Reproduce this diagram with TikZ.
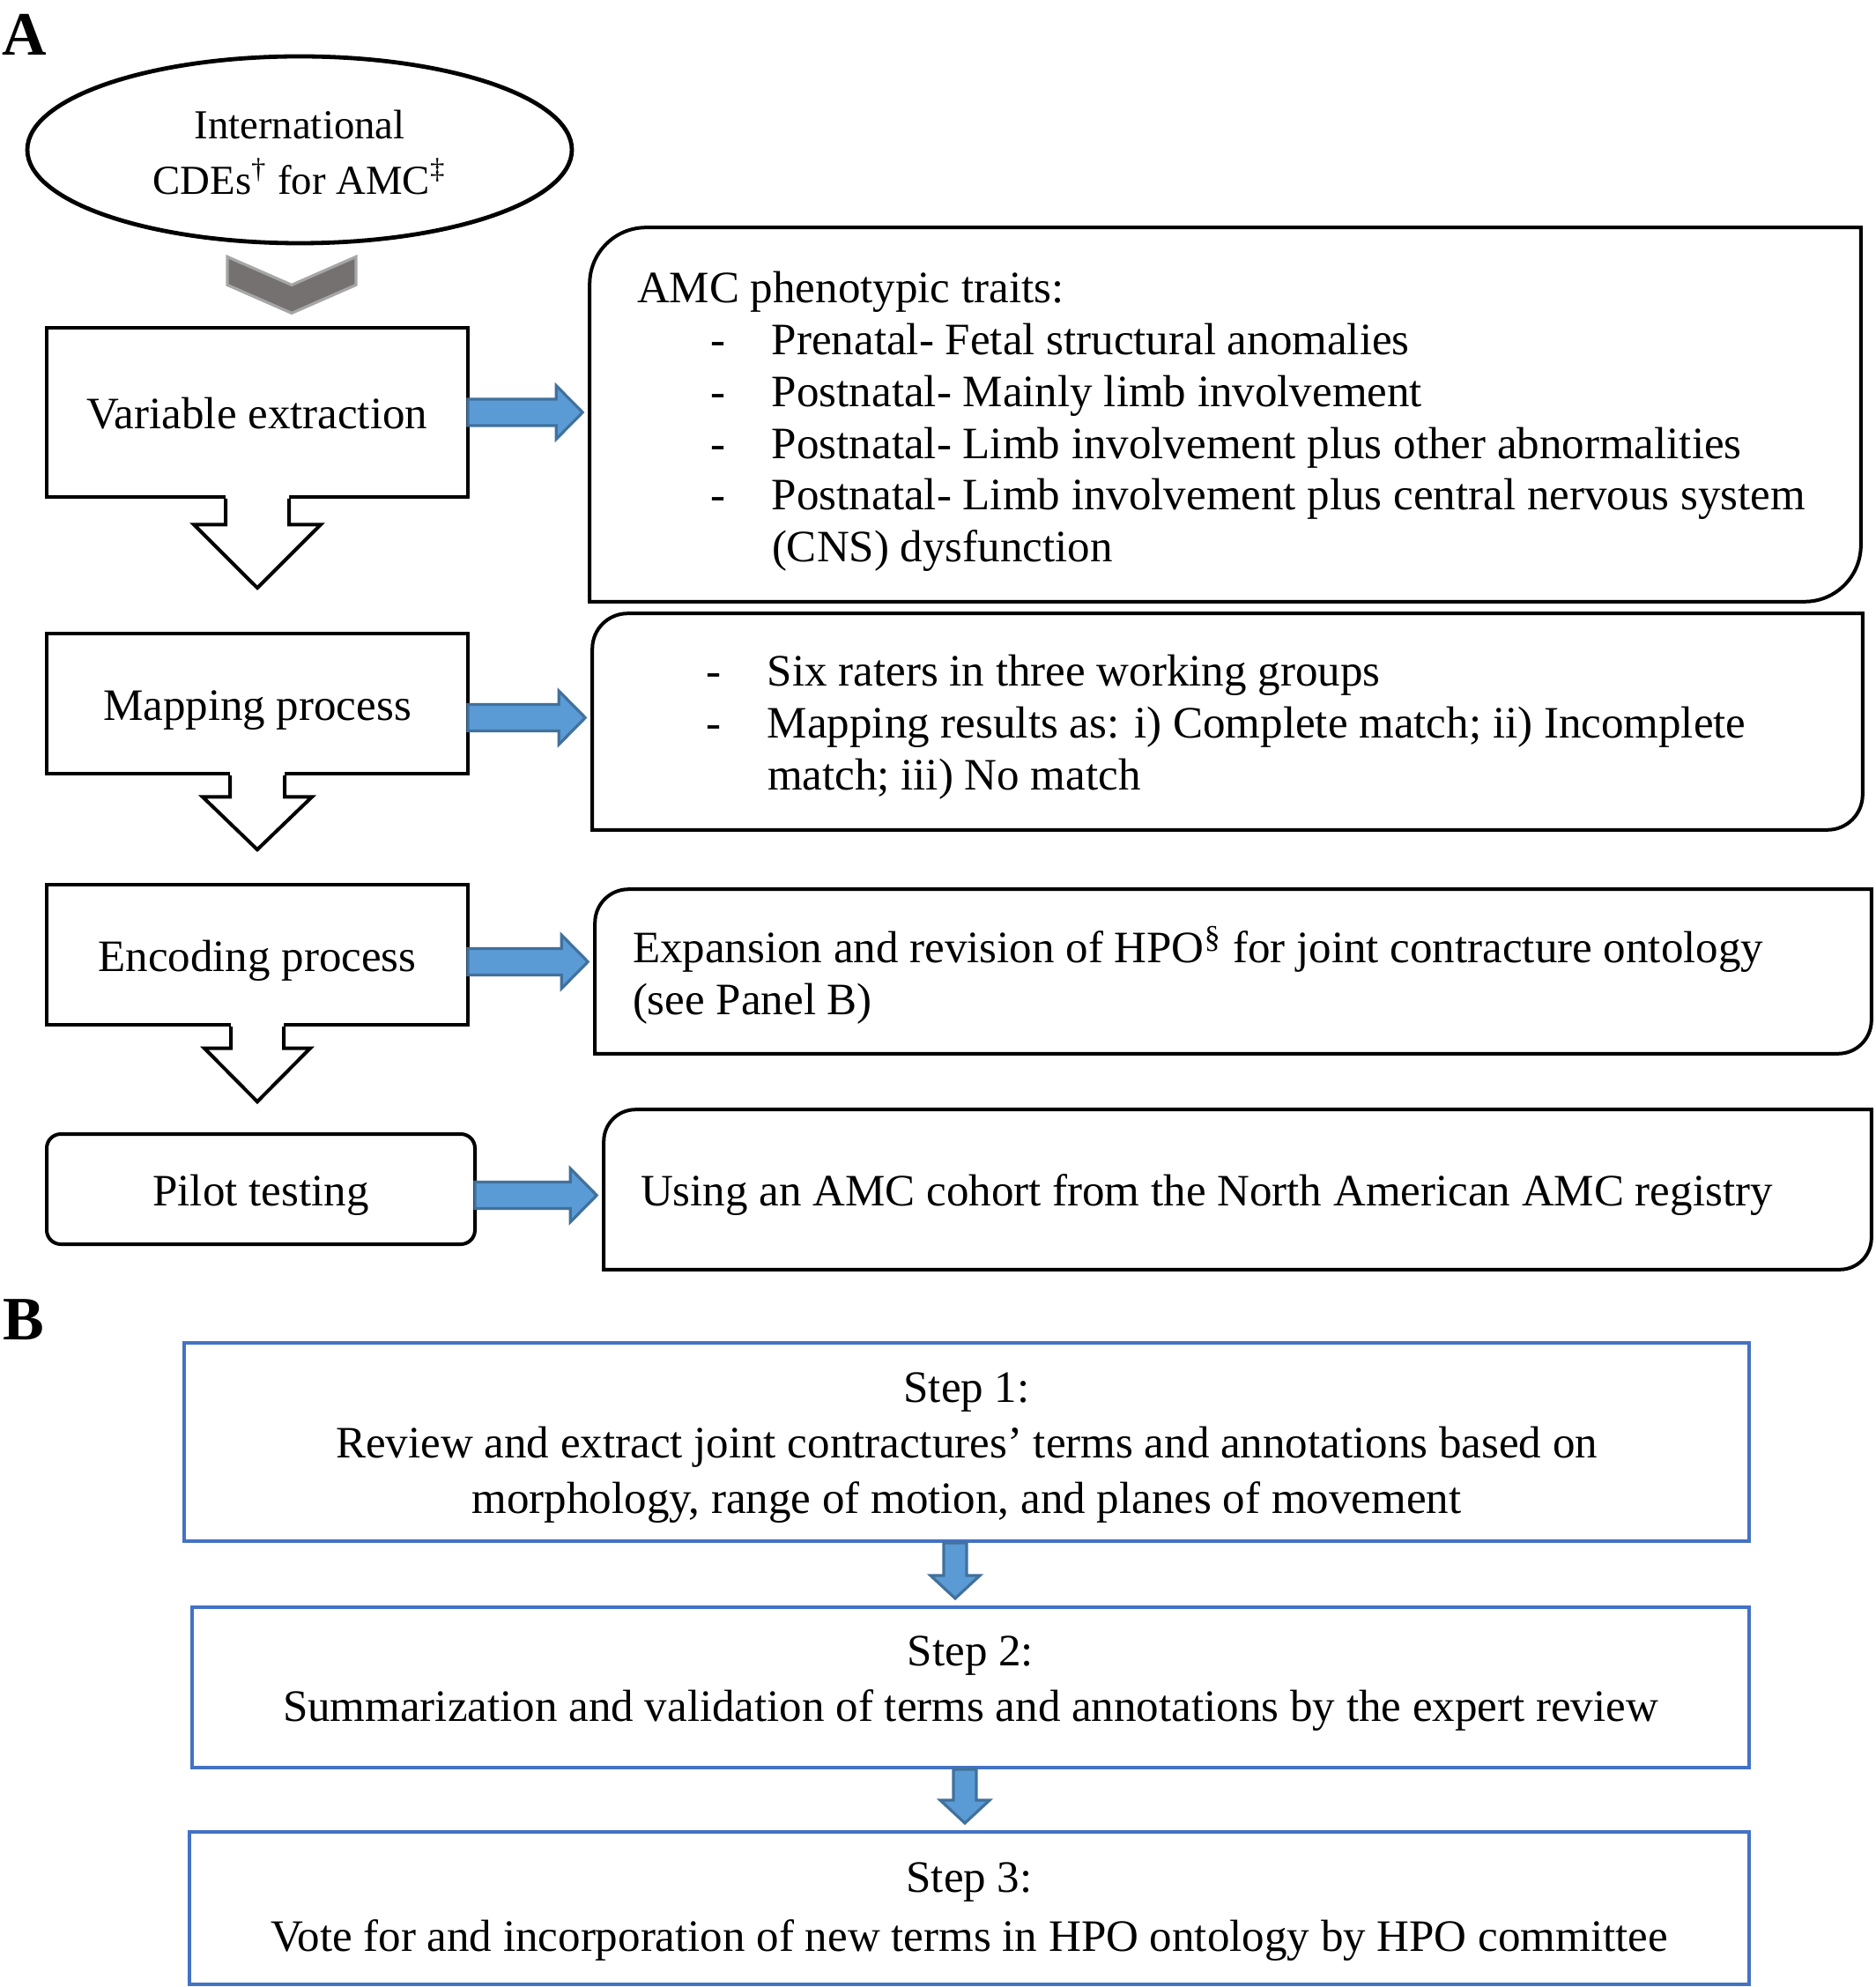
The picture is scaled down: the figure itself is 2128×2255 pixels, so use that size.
\documentclass[tikz,border=0pt]{standalone}
\usepackage{fontspec}
\setmainfont{Liberation Serif}
\usepackage{tikz}
\usetikzlibrary{arrows,positioning,calc,shapes}

\definecolor{arrowfill}{RGB}{91,155,213}
\definecolor{arrowedge}{RGB}{65,113,156}
\definecolor{stepblue}{RGB}{68,114,196}
\definecolor{chevfill}{RGB}{118,113,113}
\definecolor{chevedge}{RGB}{166,166,166}

\newcommand{\boxfont}{\fontsize{12.75}{14.7}\selectfont}
\newcommand{\stepfont}{\fontsize{12.75}{15.8}\selectfont}
\newcommand{\dashitem}[1]{\makebox[17.5pt][l]{-}#1}

% blue block arrow to the right, from a stage to its note
\newcommand{\bluearrow}[3]{%
  \filldraw[blockarrow] let \p1=($(#1.east)+(0,#3)$), \p2=(#2.west) in
    (\x1-0.5pt,\y1+3.75pt) -- (\x2-9.5pt,\y1+3.75pt) -- (\x2-9.5pt,\y1+7.6pt) -- (\x2-2pt,\y1)
    -- (\x2-9.5pt,\y1-7.6pt) -- (\x2-9.5pt,\y1-3.75pt) -- (\x1-0.5pt,\y1-3.75pt) -- cycle;}
% small blue arrow down (panel B)
\newcommand{\bluedown}[3]{%
  \filldraw[blockarrow] let \p1=($(#1.south)+(#3,0)$), \p2=(#2.north) in
    (\x1-3.25pt,\y1) -- (\x1-3.25pt,\y2+8.5pt) -- (\x1-7pt,\y2+8.5pt) -- (\x1,\y2+2pt)
    -- (\x1+7pt,\y2+8.5pt) -- (\x1+3.25pt,\y2+8.5pt) -- (\x1+3.25pt,\y1) -- cycle;}
% hollow arrow out of the bottom of a stage
\newcommand{\hollowdown}[3]{%
  \coordinate (hd-a) at (#1.south);
  \coordinate (hd-b) at ($(hd-a)!0.29!(#2)$);
  \fill[white] ($(hd-a)+(-#3,-5)$) -- ($(hd-b)+(-#3,0)$) -- ($(hd-b)+(-2*#3,0)$) -- (#2)
    -- ($(hd-b)+(2*#3,0)$) -- ($(hd-b)+(#3,0)$) -- ($(hd-a)+(#3,-5)$) -- cycle;
  \draw[boxline] ($(hd-a)+(-#3,0)$) -- ($(hd-b)+(-#3,0)$) -- ($(hd-b)+(-2*#3,0)$) -- (#2)
    -- ($(hd-b)+(2*#3,0)$) -- ($(hd-b)+(#3,0)$) -- ($(hd-a)+(#3,0)$);}
% note frame, top left and bottom right corners rounded
\newcommand{\twocorner}[2]{%
  \draw[boxline] (#1.south west) -- ($(#1.north west)+(0,-#2)$) arc[start angle=180,end angle=90,radius=#2]
    -- (#1.north east) -- ($(#1.south east)+(0,#2)$) arc[start angle=0,end angle=-90,radius=#2] -- cycle;}

\tikzset{
  boxline/.style={draw=black, line width=1pt},
  stagebox/.style={boxline, rectangle, minimum width=119.5pt, inner sep=0pt, text height=9.4pt, text depth=0pt, font=\boxfont},
  notebox/.style={rectangle, inner sep=0pt},
  notetext/.style={anchor=west, align=left, inner sep=0pt, font=\boxfont},
  stepbox/.style={draw=stepblue, line width=1pt, rectangle, inner sep=0pt, align=center, font=\stepfont},
  blockarrow/.style={fill=arrowfill, draw=arrowedge, line width=0.8pt},
  chevron/.style={fill=chevfill, draw=chevedge, line width=0.8pt},
  panellabel/.style={anchor=base west, inner sep=0pt, font=\bfseries\fontsize{17.5}{20}\selectfont}
}

\begin{document}
\begin{tikzpicture}[x=0.25pt, y=-0.25pt]
\useasboundingbox (0,0) rectangle (2128,2255);

% Panel A
\node[panellabel] (la) at (2,63) {A};
\node[draw, ellipse, line width=1.2pt, minimum width=154.5pt, minimum height=53pt, inner sep=0pt,
  align=center, font=\fontsize{11.7}{15.75}\selectfont] (cde) at (340,170)
  {\rule{0pt}{9.4pt}International\\CDEs\textsuperscript{†} for AMC\textsuperscript{‡}};

% Stages
\node[stagebox, minimum height=48pt] (ve) at (292,468) {Variable extraction};
\node[stagebox, minimum height=39.75pt] (mp) at (292,798.5) {Mapping process};
\node[stagebox, minimum height=39.75pt] (ep) at (292,1083.5) {Encoding process};
\node[stagebox, minimum width=121.5pt, minimum height=31.25pt, rounded corners=4pt] (pt) at (296,1349.5) {Pilot testing};

% Notes
\node[notebox, minimum width=360.25pt, minimum height=105.75pt] (ph) at (1390.5,470.5) {};
\node[notebox, minimum width=360pt, minimum height=61pt] (mr) at (1393,819) {};
\node[notebox, minimum width=361.75pt, minimum height=46.25pt] (ex) at (1399.5,1102.5) {};
\node[notebox, minimum width=359.25pt, minimum height=45pt] (us) at (1404.5,1350) {};
\twocorner{ph}{16pt}
\twocorner{mr}{10pt}
\twocorner{ex}{9.5pt}
\twocorner{us}{9pt}

\node[notetext] (phtxt) at ($(ph.west)+(53,8)$) {AMC phenotypic traits:\\
  \hspace*{20.75pt}\dashitem{Prenatal- Fetal structural anomalies}\\
  \hspace*{20.75pt}\dashitem{Postnatal- Mainly limb involvement}\\
  \hspace*{20.75pt}\dashitem{Postnatal- Limb involvement plus other abnormalities}\\
  \hspace*{20.75pt}\dashitem{Postnatal- Limb involvement plus central nervous system}\\
  \hspace*{38.25pt}(CNS) dysfunction};
\node[notetext] (mrtxt) at ($(mr.west)+(128,6.5)$) {\dashitem{Six raters in three working groups}\\
  \dashitem{Mapping results as: i) Complete match; ii) Incomplete}\\
  \hspace*{17.5pt}match; iii) No match};
\node[notetext] (extxt) at ($(ex.west)+(42,4)$) {Expansion and revision of HPO\textsuperscript{§} for joint contracture ontology\\(see Panel B)};
\node[notetext] (ustxt) at ($(us.west)+(41,6.5)$) {Using an AMC cohort from the North American AMC registry};

% Chevron under the CDEs
\coordinate (chv) at ($(cde.south)+(-9,13)$);
\filldraw[chevron] ($(chv)+(-73,0)$) -- ($(chv)+(0,32)$) -- ($(chv)+(73,0)$) -- ($(chv)+(73,32)$)
  -- ($(chv)+(0,64)$) -- ($(chv)+(-73,32)$) -- cycle;

% Hollow arrows between stages
\coordinate (t1) at ($(ve.south)!0.67!(ve.south |- mp.north)$);
\coordinate (t2) at ($(mp.south)!0.69!(mp.south |- ep.north)$);
\coordinate (t3) at ($(ep.south)!0.71!(ep.south |- pt.north)$);
\hollowdown{ve}{t1}{36}
\hollowdown{mp}{t2}{31}
\hollowdown{ep}{t3}{30}

% Arrows to the notes
\bluearrow{ve}{ph}{0}
\bluearrow{mp}{mr}{16}
\bluearrow{ep}{ex}{8}
\bluearrow{pt}{us}{7}

% Panel B
\node[panellabel] (lb) at (3,1520) {B};
\node[stepbox, minimum width=444pt, minimum height=56.25pt] (s1) at (1097,1636.5)
  {\rule{0pt}{11.7pt}Step 1:\\Review and extract joint contractures’ terms and annotations based on\\morphology, range of motion, and planes of movement};
\node[stepbox, minimum width=441.75pt, minimum height=45.5pt] (s2) at (1101.5,1915)
  {Step 2:\\Summarization and validation of terms and annotations by the expert review\rule[-4.8pt]{0pt}{0pt}};
\node[stepbox, minimum width=442.5pt, minimum height=43.25pt, font=\fontsize{12.75}{16.9}\selectfont] (s3) at (1100,2165.5)
  {\rule{0pt}{10.5pt}Step 3:\\Vote for and incorporation of new terms in HPO ontology by HPO committee};
\bluedown{s1}{s2}{-13}
\bluedown{s2}{s3}{-6.5}
\end{tikzpicture}
\end{document}
